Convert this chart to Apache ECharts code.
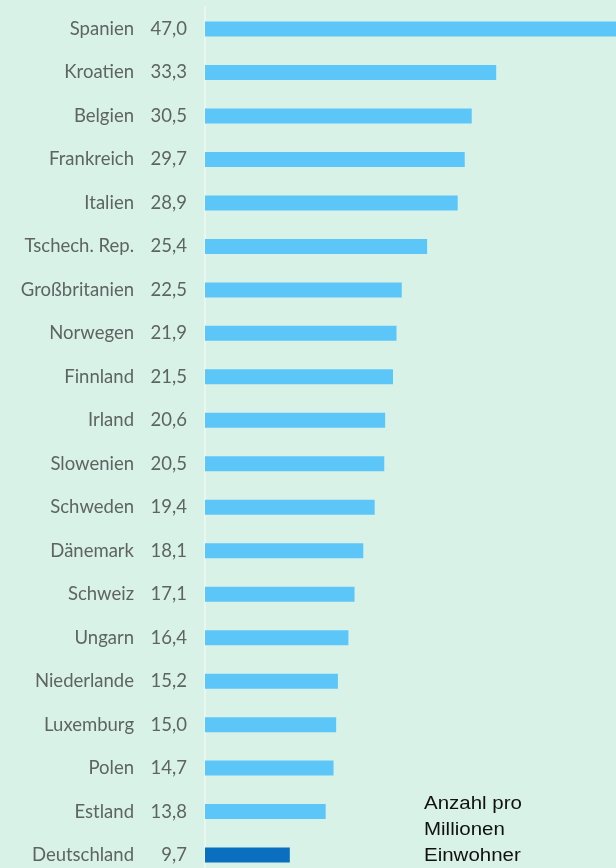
<!DOCTYPE html>
<html><head><meta charset="utf-8">
<script src="https://cdn.jsdelivr.net/npm/echarts@6/dist/echarts.min.js"></script>
<style>html,body{margin:0;padding:0;background:#d9f2e8;}#c{width:616px;height:868px;}</style>
</head><body><div id="c"></div>
<script>
const countries = ["Spanien","Kroatien","Belgien","Frankreich","Italien","Tschech. Rep.","Großbritanien","Norwegen","Finnland","Irland","Slowenien","Schweden","Dänemark","Schweiz","Ungarn","Niederlande","Luxemburg","Polen","Estland","Deutschland"];
const values = [47.0,33.3,30.5,29.7,28.9,25.4,22.5,21.9,21.5,20.6,20.5,19.4,18.1,17.1,16.4,15.2,15.0,14.7,13.8,9.7];
const highlight = "Deutschland";
const noteLines = ["Anzahl pro","Millionen","Einwohner"];

const fmt = v => v.toFixed(1).replace('.', ',');
const chart = echarts.init(document.getElementById('c'));
chart.setOption({
  backgroundColor: '#d9f2e8',
  animation: false,
  grid: {left: 205, right: 0, top: 7.3, bottom: -8.8, outerBoundsMode: 'none', containLabel: false},
  xAxis: {type: 'value', min: 0, max: 47, show: false},
  yAxis: {
    type: 'category', inverse: true, data: countries,
    axisTick: {show: false},
    axisLine: {show: true, lineStyle: {color: '#e9f6f2', width: 2}},
    axisLabel: {
      margin: 18,
      formatter: (name, i) => '{n|' + name + '}{v|' + fmt(values[i]) + '}',
      rich: {
        n: {fontFamily: 'Lato', fontSize: 18.5, color: '#5e6462', align: 'right'},
        v: {fontFamily: 'Lato', fontSize: 18.5, color: '#5e6462', width: 53, align: 'right'}
      }
    }
  },
  series: [{
    type: 'bar', barWidth: 15,
    data: values.map((v, i) => ({value: v, itemStyle: {color: countries[i] === highlight ? '#0b6fc0' : '#5cc6f8'}}))
  }],
  graphic: [{
    type: 'text', x: 424, y: 791, scaleX: 1.17,
    style: {text: noteLines.join('\n'), fontFamily: 'Liberation Sans', fontSize: 17.5, lineHeight: 26, fill: '#111'}
  }]
});
</script></body></html>
